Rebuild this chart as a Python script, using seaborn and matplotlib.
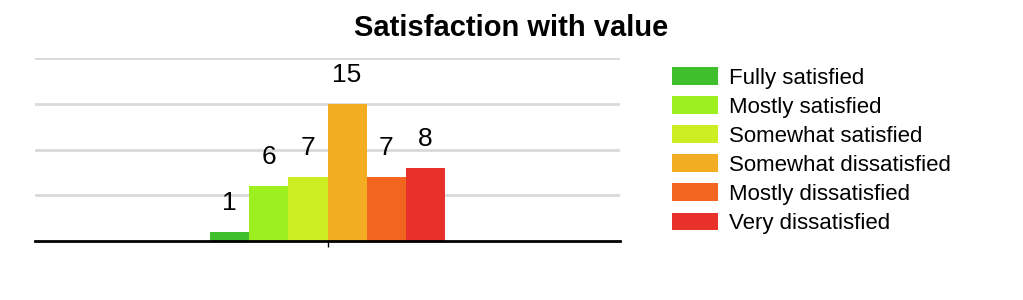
import matplotlib
matplotlib.use("Agg")
import matplotlib.pyplot as plt
import seaborn as sns
import pandas as pd

categories = ["Fully satisfied", "Mostly satisfied", "Somewhat satisfied",
              "Somewhat dissatisfied", "Mostly dissatisfied", "Very dissatisfied"]
values = [1, 6, 7, 15, 7, 8]
colors = ["#3fbf2b", "#9def1f", "#cdee23", "#f2ad23", "#f2651f", "#e8312b"]
title = "Satisfaction with value"

sns.set_theme(style="white")
plt.rcParams["font.family"] = ["Liberation Sans", "DejaVu Sans"]
plt.rcParams["text.color"] = "black"

df = pd.DataFrame({"group": [""] * len(categories), "answer": categories, "count": values})

fig = plt.figure(figsize=(10.23, 3.0), dpi=100)
ax = fig.add_axes([35 / 1023, 1 - 241 / 300, 585 / 1023, 183 / 300])

sns.barplot(data=df, x="group", y="count", hue="answer", hue_order=categories,
            palette=colors, width=0.402, saturation=1, ax=ax, legend=True,
            linewidth=0, edgecolor="none")

ax.set_xlim(-0.5, 0.5)
ax.set_ylim(0, 20)
ax.set_yticks([5, 10, 15, 20])
ax.yaxis.grid(True, color="#d9d9d9", linewidth=2)
ax.set_axisbelow(True)
ax.tick_params(axis="y", left=False, labelleft=False)
ax.tick_params(axis="x", bottom=True, length=4, width=1, color="black", labelbottom=False)
ax.set_xlabel("")
ax.set_ylabel("")
for s in ["top", "right", "left"]:
    ax.spines[s].set_visible(False)
ax.spines["bottom"].set_color("black")
ax.spines["bottom"].set_linewidth(2)

for c in ax.containers:
    ax.bar_label(c, padding=12, fontsize=19, color="black")

fig.text(0.5, 1 - 28 / 300, title, ha="center", va="center",
         fontsize=21, fontweight="bold", color="black")

leg = ax.legend(loc="upper left", bbox_to_anchor=(672 / 1023, 1 - 67 / 300),
                bbox_transform=fig.transFigure, frameon=False, fontsize=16,
                handlelength=2.05, handleheight=0.85, handletextpad=0.5,
                labelspacing=0.34, borderaxespad=0, borderpad=0)
for t in leg.get_texts():
    t.set_color("black")

fig.savefig("out.png", dpi=100)
